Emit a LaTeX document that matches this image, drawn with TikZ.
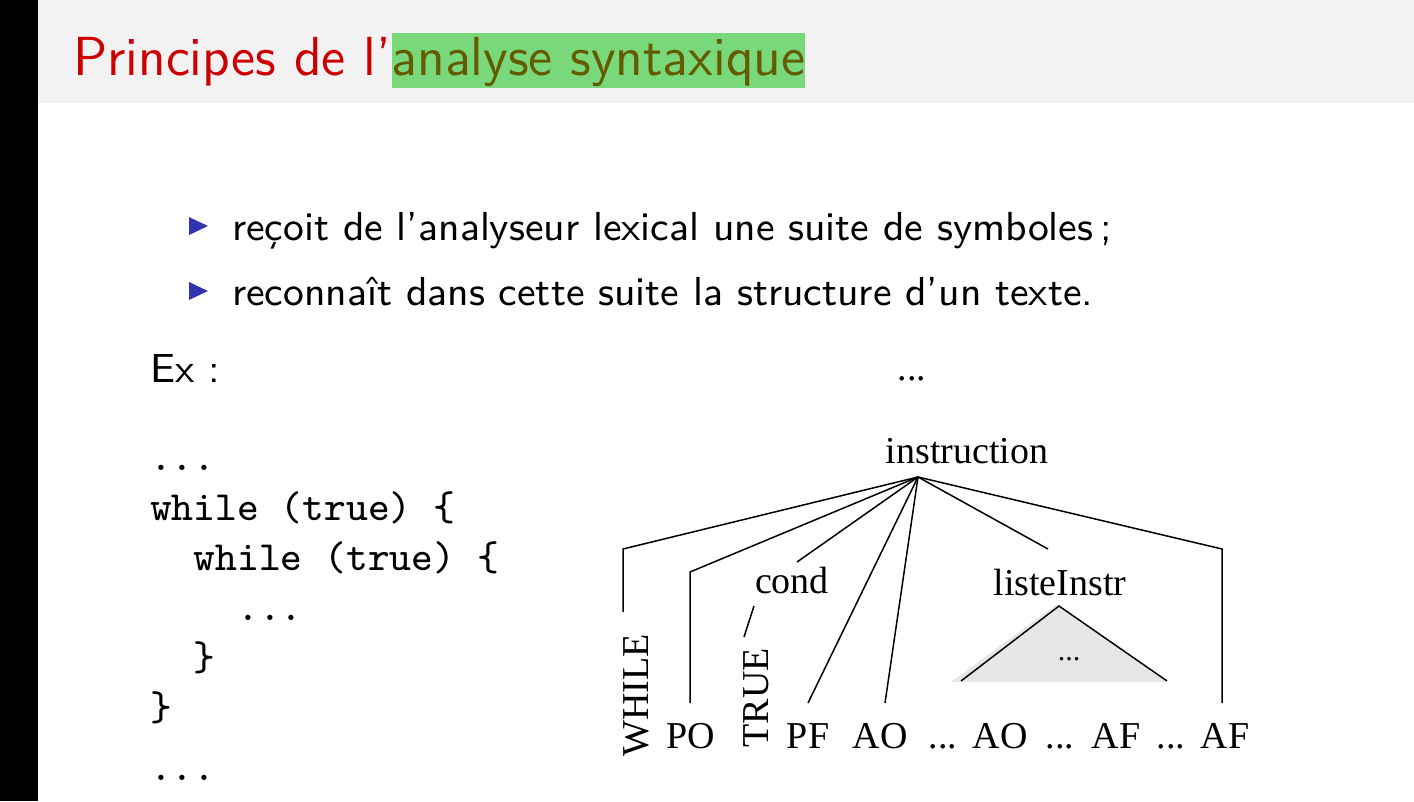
\documentclass[tikz,border=0pt]{standalone}
\usepackage{fontspec}
\newfontfamily\treefont{Liberation Serif}
\newfontfamily\bodysans{lmsans9-regular.otf}[Ligatures=TeX]
\newfontfamily\headsans{lmsans12-regular.otf}[Ligatures=TeX]
\newfontfamily\codemono{lmmono9-regular.otf}
\definecolor{titlegray}{RGB}{242,242,242}
\definecolor{titlered}{RGB}{204,0,0}
\definecolor{hlgreen}{RGB}{121,216,121}
\definecolor{hltext}{RGB}{100,90,0}
\definecolor{bulletblue}{RGB}{51,51,178}
\definecolor{trifill}{RGB}{230,230,230}
\begin{document}
\begin{tikzpicture}[x=1pt,y=-1pt,
  titlefont/.style={font=\headsans\fontsize{55}{60}\selectfont, inner sep=0pt},
  bodytxt/.style={font=\bodysans\fontsize{40.5}{44}\selectfont, inner sep=0pt, anchor=base west},
  codetxt/.style={font=\codemono\fontsize{41.5}{44}\selectfont, inner sep=0pt, anchor=base west},
  treetxt/.style={font=\treefont\fontsize{38}{40}\selectfont, inner sep=0pt, anchor=base},
  edge/.style={line width=1.5pt, line join=miter},
  bullet/.style={fill=bulletblue}]
\useasboundingbox (0,0) rectangle (1414,801);
% page background, side bar and title band
\fill[white] (0,0) rectangle (1414,801);
\fill[black] (0,0) rectangle (38,801);
\fill[titlegray] (38,0) rectangle (1414,103);
% frame title
\node[titlefont, anchor=base west, text=titlered] (title1) at (73,75) {Principes de l'};
\node[titlefont, anchor=base west, text=hltext, fill=hlgreen, text height=42pt, text depth=13pt]
  (title2) at (title1.base east) {analyse syntaxique};
% bullet list
\fill[bullet] (189,217) -- (208,226) -- (189,235) -- cycle;
\node[bodytxt] (item1) at (232,240) {reçoit de l'analyseur lexical une suite de symboles\,;};
\fill[bullet] (189,282) -- (208,291) -- (189,300) -- cycle;
\node[bodytxt] (item2) at (232,305) {reconnaît dans cette suite la structure d'un texte.};
\node[bodytxt] (ex) at (150,382) {Ex :};
% code sample
\node[codetxt] (c1) at (150,470) {...};
\node[codetxt] (c2) at (150,520) {while (true) \{};
\node[codetxt] (c3) at (150,570) {\ \ while (true) \{};
\node[codetxt] (c4) at (150,620) {\ \ \ \ ...};
\node[codetxt] (c5) at (150,670) {\ \ \}};
\node[codetxt] (c6) at (150,720) {\}};
\node[codetxt] (c7) at (150,780) {...};
% parse tree
\node[treetxt] (dots0) at (912,380) {...};
\node[treetxt] (instr) at (967,463) {instruction};
\coordinate (root) at (918,477);
\node[treetxt] (cond) at (792,593) {cond};
\node[treetxt] (liste) at (1060,595) {listeInstr};
\node[treetxt, rotate=90, anchor=base east] (while) at (648,634) {WHILE};
\node[treetxt, rotate=90, anchor=base east] (true) at (768,648) {TRUE};
\node[treetxt] (po) at (691,748) {PO};
\node[treetxt] (pf) at (808,748) {PF};
\node[treetxt] (ao1) at (880,748) {AO};
\node[treetxt] (d1) at (943,748) {...};
\node[treetxt] (ao2) at (1000,748) {AO};
\node[treetxt] (d2) at (1060,748) {...};
\node[treetxt] (af1) at (1116,748) {AF};
\node[treetxt] (d3) at (1171,748) {...};
\node[treetxt] (af2) at (1225,748) {AF};
% bends and ends of the branches
\coordinate (wBend) at (623,549);
\coordinate (wEnd) at (623,612);
\coordinate (poBend) at (690,572);
\coordinate (poEnd) at (690,703);
\coordinate (condEnd) at (797,562);
\coordinate (trueTop) at (754,606);
\coordinate (trueEnd) at (744,637);
\coordinate (pfEnd) at (808,703);
\coordinate (aoEnd) at (885,703);
\coordinate (listeEnd) at (1048,549);
\coordinate (afBend) at (1222,549);
\coordinate (afEnd) at (1222,703);
\draw[edge] (root) -- (wBend) -- (wEnd);
\draw[edge] (root) -- (poBend) -- (poEnd);
\draw[edge] (root) -- (condEnd);
\draw[edge] (trueTop) -- (trueEnd);
\draw[edge] (root) -- (pfEnd);
\draw[edge] (root) -- (aoEnd);
\draw[edge] (root) -- (listeEnd);
\draw[edge] (root) -- (afBend) -- (afEnd);
% subtree under listeInstr
\coordinate (triTop) at (1059,606);
\coordinate (triLeft) at (961,681);
\coordinate (triRight) at (1167,681);
\fill[trifill] (1056,605) -- (951,682) -- (1166,682) -- cycle;
\draw[edge] (triLeft) -- (triTop) -- (triRight);
\node[treetxt, font=\treefont\fontsize{30}{32}\selectfont] (tridots) at (1069,660) {...};
\end{tikzpicture}
\end{document}
